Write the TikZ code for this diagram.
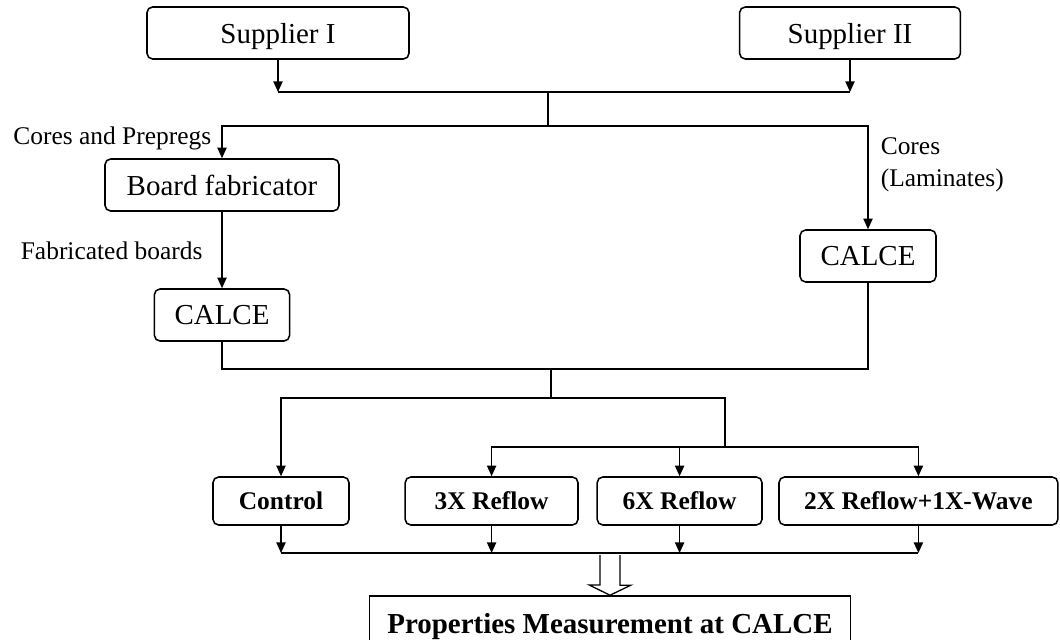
\documentclass[tikz,border=0pt]{standalone}
\usepackage{fontspec}
\setmainfont{Liberation Serif}
\usetikzlibrary{arrows.meta}
\newcommand{\boxfont}{\fontsize{20.6}{24}\selectfont}
\newcommand{\labfont}{\fontsize{18.1}{22.8}\selectfont}
\begin{document}
\begin{tikzpicture}[line width=1.1pt,
	arr/.style={-{Triangle[length=7.5pt,width=6.5pt]}},
	stage/.style={draw,rounded corners=4pt,inner sep=0pt,text depth=0pt,minimum height=1.3cm,font=\boxfont},
	test/.style={draw,rounded corners=4pt,inner sep=0pt,text depth=0pt,minimum height=1.2cm,font=\labfont\bfseries},
	lab/.style={inner sep=0pt,font=\labfont}]
			\useasboundingbox (0,0) rectangle (26.5,-16);
			
			\node[stage,minimum width=6.55cm] (sup1) at (6.95,-0.825) {Supplier I};
			\node[stage,minimum width=5.52cm] (sup2) at (21.25,-0.825) {Supplier II};
			
			\node[stage,minimum width=5.85cm] (board) at (5.55,-4.625) {Board fabricator};
			\node[stage,minimum width=3.38cm] (calceL) at (5.55,-7.875) {CALCE};
			\node[stage,minimum width=3.4cm] (calceR) at (21.7,-6.4) {CALCE};
			
			\node[lab,anchor=base east] (cp) at (5.3,-3.625) {Cores and Prepregs};
			\node[lab,anchor=base east] (fb) at (5.08,-6.5) {Fabricated boards};
			\node[lab,anchor=north west,align=left] (lam) at (22.0,-3.42) {Cores\\(Laminates)};
			
			\node[test,minimum width=3.4cm] (ctl) at (7.025,-12.525) {Control};
			\node[test,minimum width=4.32cm] (r3) at (12.29,-12.525) {3X Reflow};
			\node[test,minimum width=4.12cm] (r6) at (16.99,-12.525) {6X Reflow};
			\node[test,minimum width=6.97cm] (r2w) at (22.96,-12.525) {2X Reflow+1X-Wave};
			
			\node[draw,inner sep=0pt,text depth=0pt,minimum width=12.02cm,minimum height=1.35cm,font=\boxfont\bfseries] (prop) at (15.25,-15.575) {Properties Measurement at CALCE};
			
			% suppliers
			\coordinate (top) at (13.7,-2.3);
			\coordinate (split) at (13.7,-3.15);
			\draw[arr] (sup1.south) -- (sup1.south |- top);
			\draw[arr] (sup2.south) -- (sup2.south |- top);
			\draw (sup1.south |- top) -- (sup2.south |- top);
			\draw (top) -- (split);
			\draw[arr] (split) -| (board.north);
			\draw[arr] (split) -| (calceR.north);
			\draw[arr] (board) -- (calceL);
			
			% samples
			\coordinate (join) at (13.775,-9.225);
			\coordinate (fork) at (13.775,-9.95);
			\coordinate (fork2) at (18.125,-9.95);
			\coordinate (fork3) at (18.125,-11.175);
			\draw (calceL.south) |- (join) -| (calceR.south);
			\draw (join) -- (fork) -- (fork2) -- (fork3);
			\draw[arr] (fork) -| (ctl.north);
			\draw[arr] (fork3) -| (r3.north);
			\draw[arr] (fork3) -| (r2w.north);
			\draw[arr] (r6.north |- fork3) -- (r6.north);
			
			% measurement
			\coordinate (collect) at (15.25,-13.825);
			\foreach \n in {ctl,r3,r6,r2w}
				\draw[arr] (\n.south) -- (\n.south |- collect);
			\draw (ctl.south |- collect) -- (r2w.south |- collect);
			\draw[line width=0.9pt] (collect) ++(-0.25,-0.05) -- ++(0,-0.75) -- ++(-0.27,0) -- (prop.north) -- ++(0.52,0.25) -- ++(-0.27,0) -- ++(0,0.75);
	
		\end{tikzpicture}
\end{document}
